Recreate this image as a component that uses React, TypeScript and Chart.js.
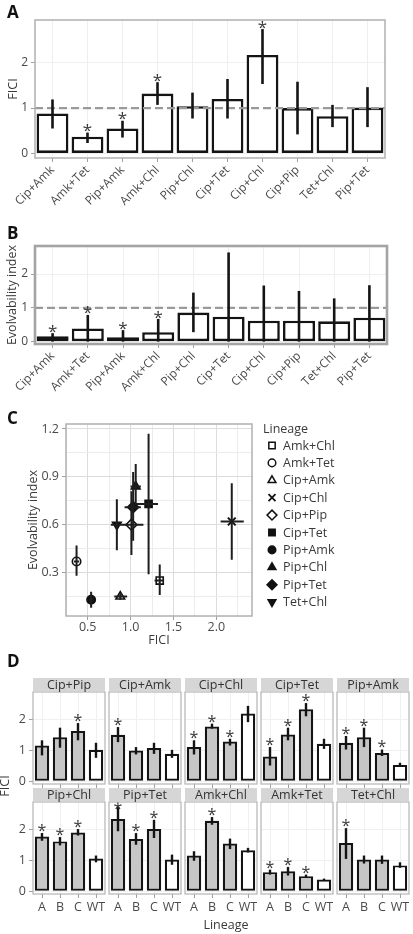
import React, { useEffect, useRef } from 'react';
import { Chart, registerables } from 'chart.js';
import { drawPoint } from 'chart.js/helpers';

Chart.register(...registerables);

const FONT = "'Open Sans', 'DejaVu Sans', sans-serif";
Chart.defaults.font.family = FONT;
Chart.defaults.color = '#4a4a4a';

// ---------- Panel A / B data ----------
const combos = ['Cip+Amk', 'Amk+Tet', 'Pip+Amk', 'Amk+Chl', 'Pip+Chl', 'Cip+Tet', 'Cip+Chl', 'Cip+Pip', 'Tet+Chl', 'Pip+Tet'];
const ficiMean = [0.88, 0.37, 0.55, 1.32, 1.04, 1.2, 2.17, 1.0, 0.82, 1.01];
const ficiLow = [0.55, 0.23, 0.35, 1.07, 0.77, 0.77, 1.53, 0.42, 0.58, 0.58];
const ficiHigh = [1.19, 0.46, 0.72, 1.57, 1.34, 1.64, 2.74, 1.58, 1.07, 1.46];
const ficiSig = [false, true, true, true, false, false, true, false, false, false];
const ficiTicks = [0, 1, 2];

const evoMean = [0.16, 0.39, 0.13, 0.28, 0.86, 0.74, 0.62, 0.62, 0.6, 0.71];
const evoLow = [0, 0, 0, 0, 0.28, 0, 0, 0, 0, 0];
const evoHigh = [0.25, 0.79, 0.34, 0.67, 1.45, 2.64, 1.66, 1.5, 1.28, 1.67];
const evoSig = [true, true, true, true, false, false, false, false, false, false];
const evoTicks = [0, 1, 2];

// ---------- Panel C data ----------
const lineages = ['Amk+Chl', 'Amk+Tet', 'Cip+Amk', 'Cip+Chl', 'Cip+Pip', 'Cip+Tet', 'Pip+Amk', 'Pip+Chl', 'Pip+Tet', 'Tet+Chl'];
const cFici = [1.34, 0.37, 0.88, 2.18, 1.01, 1.21, 0.54, 1.06, 1.03, 0.84];
const cFiciLow = [1.28, 0.34, 0.81, 2.05, 0.94, 1.06, 0.52, 1.0, 0.93, 0.77];
const cFiciHigh = [1.39, 0.4, 0.96, 2.32, 1.15, 1.32, 0.56, 1.12, 1.12, 0.95];
const cEvo = [0.25, 0.37, 0.15, 0.62, 0.6, 0.73, 0.13, 0.84, 0.71, 0.6];
const cEvoLow = [0.16, 0.28, 0.13, 0.38, 0.41, 0.29, 0.08, 0.72, 0.5, 0.44];
const cEvoHigh = [0.35, 0.47, 0.17, 0.86, 0.81, 1.17, 0.18, 0.98, 0.93, 0.76];
const cXTicks = [0.25, 0.5, 0.75, 1.0, 1.25, 1.5, 1.75, 2.0, 2.25];
const cXMajor = [0.5, 1.0, 1.5, 2.0];
const cYTicks = [0.15, 0.3, 0.45, 0.6, 0.75, 0.9, 1.05, 1.2];
const cYMajor = [0.3, 0.6, 0.9, 1.2];

// marker styles (style, not data)
const markerStyle = ['rect', 'circle', 'triangle', 'crossRot', 'rectRot', 'rect', 'circle', 'triangle', 'rectRot', 'triangle'];
const markerFilled = [false, false, false, false, false, true, true, true, true, true];
const markerRot = [0, 0, 0, 0, 0, 0, 0, 0, 0, 180];
const markerR = [5, 4.2, 5, 5.5, 5.5, 5, 4.2, 5, 5.5, 5];

// ---------- Panel D data ----------
const facetNames = ['Cip+Pip', 'Cip+Amk', 'Cip+Chl', 'Cip+Tet', 'Pip+Amk', 'Pip+Chl', 'Pip+Tet', 'Amk+Chl', 'Amk+Tet', 'Tet+Chl'];
const lineageLabels = ['A', 'B', 'C', 'WT'];
const dMean = [
  [1.16, 1.43, 1.63, 1.02], [1.51, 1.0, 1.08, 0.89], [1.11, 1.78, 1.29, 2.2], [0.8, 1.52, 2.34, 1.22], [1.25, 1.43, 0.92, 0.53],
  [1.78, 1.62, 1.91, 1.06], [2.35, 1.7, 2.02, 1.03], [1.16, 2.29, 1.55, 1.33], [0.62, 0.65, 0.49, 0.38], [1.57, 1.03, 1.03, 0.84],
];
const dLow = [
  [0.84, 1.09, 1.33, 0.76], [1.27, 0.87, 0.89, 0.76], [0.87, 1.71, 1.16, 1.92], [0.51, 1.33, 2.11, 1.05], [1.03, 1.11, 0.82, 0.48],
  [1.64, 1.49, 1.81, 0.94], [1.95, 1.51, 1.73, 0.86], [0.99, 2.16, 1.37, 1.26], [0.54, 0.51, 0.43, 0.35], [1.05, 0.9, 0.89, 0.76],
];
const dHigh = [
  [1.33, 1.74, 1.89, 1.25], [1.76, 1.11, 1.25, 1.02], [1.33, 1.87, 1.38, 2.45], [1.11, 1.74, 2.54, 1.38], [1.47, 1.74, 1.03, 0.6],
  [1.89, 1.76, 2.02, 1.16], [2.76, 1.89, 2.32, 1.19], [1.3, 2.41, 1.71, 1.41], [0.7, 0.79, 0.54, 0.41], [2.05, 1.16, 1.16, 0.94],
];
const dSig = [
  [0, 0, 1, 0], [1, 0, 0, 0], [1, 1, 1, 0], [1, 1, 1, 0], [1, 1, 1, 0],
  [1, 1, 1, 0], [1, 1, 1, 0], [0, 1, 0, 0], [1, 1, 1, 0], [1, 0, 0, 0],
];
const dTicks = [0, 1, 2];

// ---------- generic bar chart ----------
type BarOpts = {
  labels: string[]; mean: number[]; low: number[]; high: number[]; sig: boolean[];
  fills: string[]; yMin: number; yMax: number; yTicks: number[];
  yTitle?: string; yTitlePad?: number;
  padTop: number; padRight: number; padLeft: number; yWidth: number; xHeight: number;
  showY: boolean; showX: boolean; rotation: number; xPad: number;
  frameColor: string; frameWidth: number; dashed: boolean;
  barBorder: number; errWidth: number; barPct: number; starSize: number; starGap: number;
  gridColor: string; fontSize: number;
};

function barDecor(o: BarOpts) {
  return {
    id: 'barDecor',
    afterDatasetsDraw(chart: any) {
      const { ctx, chartArea: a } = chart;
      const y = chart.scales.y;
      const meta = chart.getDatasetMeta(0);
      ctx.save();
      if (o.dashed) {
        const py = y.getPixelForValue(1);
        ctx.strokeStyle = '#9a9a9a';
        ctx.lineWidth = 2.3;
        ctx.setLineDash([8, 4]);
        ctx.beginPath();
        ctx.moveTo(a.left, py);
        ctx.lineTo(a.right, py);
        ctx.stroke();
        ctx.setLineDash([]);
      }
      ctx.strokeStyle = '#141414';
      ctx.lineWidth = o.errWidth;
      meta.data.forEach((bar: any, i: number) => {
        const x = bar.x;
        const yl = Math.min(y.getPixelForValue(o.low[i]), a.bottom);
        const yh = y.getPixelForValue(o.high[i]);
        ctx.beginPath();
        ctx.moveTo(x, yl);
        ctx.lineTo(x, yh);
        ctx.stroke();
        if (o.sig[i]) {
          const c = Math.max(yh - o.starGap, a.top + 3);
          ctx.fillStyle = '#3a3a3a';
          ctx.font = `${o.starSize}px ${FONT}`;
          ctx.textAlign = 'center';
          ctx.textBaseline = 'alphabetic';
          ctx.fillText('*', x, c + 0.56 * o.starSize);
        }
      });
      ctx.restore();
    },
    afterDraw(chart: any) {
      const { ctx, chartArea: a } = chart;
      ctx.save();
      ctx.strokeStyle = o.frameColor;
      ctx.lineWidth = o.frameWidth;
      ctx.strokeRect(a.left, a.top, a.right - a.left, a.bottom - a.top);
      ctx.restore();
    },
  };
}

function buildBar(canvas: HTMLCanvasElement, o: BarOpts) {
  return new Chart(canvas, {
    type: 'bar',
    data: {
      labels: o.labels,
      datasets: [{
        data: o.mean,
        backgroundColor: o.fills,
        borderColor: '#141414',
        borderWidth: o.barBorder,
        borderSkipped: false,
        barPercentage: o.barPct,
        categoryPercentage: 1,
      }],
    },
    options: {
      responsive: false,
      animation: false,
      events: [],
      layout: { padding: { top: o.padTop, right: o.padRight, left: o.padLeft, bottom: 0 } },
      plugins: { legend: { display: false }, tooltip: { enabled: false } },
      scales: {
        x: {
          grid: { offset: false, color: o.gridColor, tickColor: '#a0a0a0', tickLength: 4, lineWidth: 1 },
          border: { display: false },
          ticks: {
            display: o.showX, autoSkip: false, maxRotation: o.rotation, minRotation: o.rotation,
            padding: o.xPad, font: { size: o.fontSize }, color: '#4a4a4a',
          },
          afterFit: (s: any) => { s.height = o.xHeight; s.paddingLeft = 0; s.paddingRight = 0; },
        },
        y: {
          min: o.yMin,
          max: o.yMax,
          afterBuildTicks: (s: any) => { s.ticks = o.yTicks.map((v) => ({ value: v })); },
          grid: { color: o.gridColor, tickColor: '#a0a0a0', tickLength: 4, drawTicks: o.showY, lineWidth: 1 },
          border: { display: false },
          ticks: { display: o.showY, padding: 3, font: { size: o.fontSize }, color: '#4a4a4a' },
          title: o.yTitle
            ? { display: true, text: o.yTitle, font: { size: 12.5 }, color: '#3a3a3a', padding: { top: o.yTitlePad ?? 4, bottom: 0 } }
            : { display: false },
          afterFit: (s: any) => { s.width = o.yWidth; s.paddingTop = 0; s.paddingBottom = 0; },
        },
      },
    },
    plugins: [barDecor(o)],
  } as any);
}

// ---------- scatter (panel C) ----------
function buildScatter(canvas: HTMLCanvasElement) {
  const isMajor = (arr: number[], v: number) => arr.some((m) => Math.abs(m - v) < 1e-6);
  const errPlugin = {
    id: 'cDecor',
    afterDatasetsDraw(chart: any) {
      const { ctx } = chart;
      const { x, y } = chart.scales;
      ctx.save();
      ctx.strokeStyle = '#1e1e1e';
      ctx.lineWidth = 2;
      lineages.forEach((_, i) => {
        const px = x.getPixelForValue(cFici[i]);
        const py = y.getPixelForValue(cEvo[i]);
        ctx.beginPath();
        ctx.moveTo(px, y.getPixelForValue(cEvoLow[i]));
        ctx.lineTo(px, y.getPixelForValue(cEvoHigh[i]));
        ctx.moveTo(x.getPixelForValue(cFiciLow[i]), py);
        ctx.lineTo(x.getPixelForValue(cFiciHigh[i]), py);
        ctx.stroke();
      });
      ctx.restore();
    },
    afterDraw(chart: any) {
      const { ctx, chartArea: a } = chart;
      ctx.save();
      ctx.strokeStyle = '#b0b0b0';
      ctx.lineWidth = 1.5;
      ctx.strokeRect(a.left, a.top, a.right - a.left, a.bottom - a.top);
      // legend
      ctx.fillStyle = '#3a3a3a';
      ctx.font = `12.5px ${FONT}`;
      ctx.textAlign = 'left';
      ctx.textBaseline = 'middle';
      ctx.fillText('Lineage', a.right + 11, a.top + 5);
      chart.data.datasets.forEach((ds: any, i: number) => {
        const yy = a.top + 21.5 + 17.4 * i;
        ctx.strokeStyle = '#111';
        ctx.fillStyle = markerFilled[i] ? '#111' : '#fff';
        ctx.lineWidth = markerStyle[i] === 'crossRot' ? 1.8 : 1.5;
        drawPoint(ctx, { pointStyle: markerStyle[i], rotation: markerRot[i], radius: markerR[i] * 0.9, borderWidth: ctx.lineWidth } as any, a.right + 20, yy);
        ctx.fillStyle = '#3a3a3a';
        ctx.fillText(ds.label, a.right + 31, yy + 0.5);
      });
      ctx.restore();
    },
  };
  return new Chart(canvas, {
    type: 'scatter',
    data: {
      datasets: lineages.map((name, i) => ({
        label: name,
        data: [{ x: cFici[i], y: cEvo[i] }],
        pointStyle: markerStyle[i],
        rotation: markerRot[i],
        pointRadius: markerR[i],
        backgroundColor: markerFilled[i] ? '#111' : '#fff',
        borderColor: '#111',
        borderWidth: markerStyle[i] === 'crossRot' ? 2 : 1.6,
      })),
    },
    options: {
      responsive: false,
      animation: false,
      events: [],
      layout: { padding: { top: 24, right: 161, left: 0, bottom: 0 } },
      plugins: { legend: { display: false }, tooltip: { enabled: false } },
      scales: {
        x: {
          type: 'linear',
          min: 0.247,
          max: 2.416,
          afterBuildTicks: (s: any) => { s.ticks = cXTicks.map((v) => ({ value: v })); },
          grid: {
            color: (c: any) => (isMajor(cXMajor, c.tick?.value) ? '#dcdcdc' : '#ececec'),
            tickColor: (c: any) => (isMajor(cXMajor, c.tick?.value) ? '#a0a0a0' : 'rgba(0,0,0,0)'),
            tickLength: 4,
          },
          border: { display: false },
          ticks: {
            autoSkip: false,
            maxRotation: 0,
            padding: 0,
            font: { size: 12.5 },
            color: '#4a4a4a',
            callback: (v: any) => (isMajor(cXMajor, Number(v)) ? Number(v).toFixed(1) : ''),
          },
          title: { display: true, text: 'FICI', font: { size: 12.5 }, color: '#3a3a3a', padding: { top: 0, bottom: 2 } },
          afterFit: (s: any) => { s.height = 34; s.paddingLeft = 0; s.paddingRight = 0; },
        },
        y: {
          type: 'linear',
          min: 0.028,
          max: 1.231,
          afterBuildTicks: (s: any) => { s.ticks = cYTicks.map((v) => ({ value: v })); },
          grid: {
            color: (c: any) => (isMajor(cYMajor, c.tick?.value) ? '#dcdcdc' : '#ececec'),
            tickColor: (c: any) => (isMajor(cYMajor, c.tick?.value) ? '#a0a0a0' : 'rgba(0,0,0,0)'),
            tickLength: 4,
          },
          border: { display: false },
          ticks: {
            autoSkip: false,
            padding: 3,
            font: { size: 12.5 },
            color: '#4a4a4a',
            callback: (v: any) => (isMajor(cYMajor, Number(v)) ? Number(v).toFixed(1) : ''),
          },
          title: { display: true, text: 'Evolvability index', font: { size: 12.5 }, color: '#3a3a3a', padding: { top: 26, bottom: 0 } },
          afterFit: (s: any) => { s.width = 66; s.paddingTop = 0; s.paddingBottom = 0; },
        },
      },
    },
    plugins: [errPlugin],
  } as any);
}

// ---------- React plumbing ----------
function ChartCanvas(props: { left: number; top: number; width: number; height: number; build: (c: HTMLCanvasElement) => Chart }) {
  const ref = useRef<HTMLCanvasElement>(null);
  useEffect(() => {
    const ch = props.build(ref.current!);
    return () => ch.destroy();
  }, []);
  const { left, top, width, height } = props;
  return <canvas ref={ref} width={width} height={height} style={{ position: 'absolute', left, top, width, height }} />;
}

const letterStyle = (left: number, top: number): React.CSSProperties => ({
  position: 'absolute', left, top, fontFamily: FONT, fontWeight: 700, fontSize: 17, lineHeight: '17px', color: '#111',
});

const baseBar = {
  padLeft: 0, rotation: 45, xPad: 1, frameColor: '#b0b0b0', frameWidth: 1.5, dashed: true,
  barBorder: 2.6, errWidth: 2.6, barPct: 0.91, starSize: 17, starGap: 6, gridColor: '#efefef', fontSize: 12,
  showY: true, showX: true,
};

const colLeft = [33, 109, 185, 261, 337];
const facetW = 72;
const rowTop = [692, 802];
const panelH = 92;

export default function App() {
  const whiteFills = combos.map(() => '#ffffff');
  const optsA: BarOpts = {
    ...baseBar, labels: combos, mean: ficiMean, low: ficiLow, high: ficiHigh, sig: ficiSig, fills: whiteFills,
    yMin: -0.1, yMax: 2.94, yTicks: ficiTicks, yTitle: 'FICI', yTitlePad: 6,
    padTop: 20, padRight: 28, yWidth: 35, xHeight: 57,
  };
  const optsB: BarOpts = {
    ...baseBar, labels: combos, mean: evoMean, low: evoLow, high: evoHigh, sig: evoSig, fills: whiteFills,
    yMin: -0.07, yMax: 2.83, yTicks: evoTicks, yTitle: 'Evolvability index', yTitlePad: 5,
    padTop: 31, padRight: 26, yWidth: 35, xHeight: 51, frameColor: '#a4a4a4', frameWidth: 2.6,
  };

  const facets = facetNames.map((name, f) => {
    const row = f < 5 ? 0 : 1;
    const col = f % 5;
    const isLeft = col === 0;
    const xHeight = row === 0 ? 5 : 28;
    const cLeft = isLeft ? 0 : colLeft[col] - 2;
    const width = isLeft ? colLeft[col] + facetW + 2 : facetW + 4;
    const top = rowTop[row] - 2;
    const height = 2 + panelH + xHeight;
    const o: BarOpts = {
      ...baseBar,
      labels: lineageLabels, mean: dMean[f], low: dLow[f], high: dHigh[f], sig: dSig[f].map((v) => v === 1),
      fills: ['#c6c6c6', '#c6c6c6', '#c6c6c6', '#ffffff'],
      yMin: -0.09, yMax: 2.9, yTicks: dTicks,
      padTop: 2, padRight: 2, padLeft: isLeft ? 0 : 2, yWidth: isLeft ? colLeft[0] : 0, xHeight,
      showY: isLeft, showX: row === 1, rotation: 0, xPad: 2, dashed: false,
      barBorder: 2.2, errWidth: 2.4, barPct: 0.8, starSize: 16, starGap: 6, frameColor: '#b4b4b4', frameWidth: 1.2,
      fontSize: 12.5, gridColor: '#f0f0f0',
    };
    return { name, row, col, cLeft, width, top, height, o };
  });

  return (
    <div style={{ position: 'absolute', left: 0, top: 0, width: 413, height: 934, background: '#fff', overflow: 'hidden' }}>
      <ChartCanvas left={0} top={0} width={413} height={215} build={(c) => buildBar(c, optsA)} />
      <ChartCanvas left={0} top={215} width={413} height={180} build={(c) => buildBar(c, optsB)} />
      <ChartCanvas left={0} top={400} width={413} height={250} build={buildScatter} />
      {facets.map((fc) => (
        <ChartCanvas key={fc.name} left={fc.cLeft} top={fc.top} width={fc.width} height={fc.height} build={(c) => buildBar(c, fc.o)} />
      ))}
      {facets.map((fc) => (
        <div
          key={'s' + fc.name}
          style={{
            position: 'absolute', left: colLeft[fc.col], top: rowTop[fc.row] - 14, width: facetW, height: 13,
            background: '#d6d6d6', fontFamily: FONT, fontSize: 12.5, lineHeight: '13px', textAlign: 'center', color: '#333',
          }}
        >
          {fc.name}
        </div>
      ))}
      <div style={letterStyle(7, 3)}>A</div>
      <div style={letterStyle(7, 224)}>B</div>
      <div style={letterStyle(7, 409)}>C</div>
      <div style={letterStyle(7, 652)}>D</div>
      <div
        style={{
          position: 'absolute', left: 5, top: 786, transform: 'translate(-50%, -50%) rotate(-90deg)',
          fontFamily: FONT, fontSize: 12.5, color: '#3a3a3a', whiteSpace: 'nowrap', lineHeight: '14px',
        }}
      >
        FICI
      </div>
      <div
        style={{
          position: 'absolute', left: 226, top: 925, transform: 'translate(-50%, -50%)',
          fontFamily: FONT, fontSize: 12.5, color: '#3a3a3a', whiteSpace: 'nowrap', lineHeight: '14px',
        }}
      >
        Lineage
      </div>
    </div>
  );
}
